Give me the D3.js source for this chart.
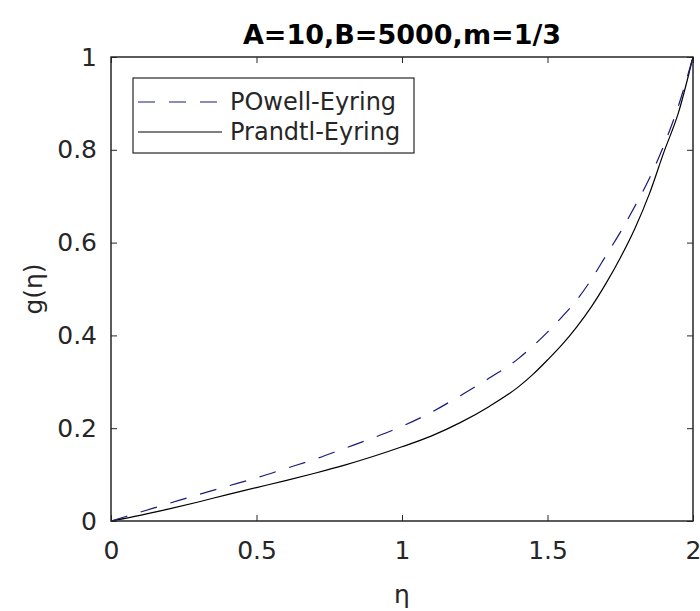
<!DOCTYPE html>
<html>
<head>
<meta charset="utf-8">
<script src="https://cdn.jsdelivr.net/npm/d3@7"></script>
<style>
  body { margin: 0; background: #fff; }
  text { font-family: "DejaVu Sans", sans-serif; fill: #262626; }
</style>
</head>
<body>
<div id="viz"></div>
<script>
// data
var eta = [0, 0.1, 0.2, 0.3, 0.4, 0.5, 0.6, 0.7, 0.8, 0.9, 1.0, 1.1, 1.2, 1.3, 1.4, 1.45, 1.5, 1.55, 1.6, 1.65, 1.7, 1.75, 1.8, 1.85, 1.9, 1.95, 2.0];
var powell = [0, 0.019, 0.038, 0.057, 0.075, 0.093, 0.113, 0.133, 0.156, 0.179, 0.204, 0.234, 0.270, 0.308, 0.350, 0.377, 0.407, 0.44, 0.476, 0.52, 0.571, 0.622, 0.678, 0.738, 0.81, 0.895, 1.0];
var prandtl = [0, 0.012, 0.026, 0.041, 0.057, 0.072, 0.087, 0.103, 0.120, 0.139, 0.160, 0.183, 0.212, 0.247, 0.289, 0.316, 0.347, 0.380, 0.418, 0.461, 0.511, 0.567, 0.63, 0.705, 0.795, 0.88, 1.0];
var xTicks = [0, 0.5, 1, 1.5, 2];
var yTicks = [0, 0.2, 0.4, 0.6, 0.8, 1];
var legendLabels = ["POwell-Eyring", "Prandtl-Eyring"];

var width = 700, height = 611;
var margin = { t: 57, l: 111, b: 90, r: 7 };
var w = width - margin.l - margin.r;
var h = height - margin.t - margin.b;

var svg = d3.select('#viz').append('svg')
  .attr('width', width)
  .attr('height', height);

var g = svg.append('g')
  .attr('transform', `translate(${margin.l}, ${margin.t})`);

var x = d3.scaleLinear().domain([0, 2]).range([0, w]);
var y = d3.scaleLinear().domain([0, 1]).range([h, 0]);

var tickLen = 6;

// axes (inside ticks, like matlab)
var xAxis = g.append('g').attr('transform', `translate(0, ${h})`)
  .call(d3.axisBottom(x).tickValues(xTicks).tickSize(-tickLen).tickPadding(20).tickFormat(d3.format('')));
var xTop = g.append('g')
  .call(d3.axisTop(x).tickValues(xTicks).tickSize(-tickLen).tickFormat(''));
var yAxis = g.append('g')
  .call(d3.axisLeft(y).tickValues(yTicks).tickSize(-tickLen).tickPadding(14).tickFormat(d3.format('')));
var yRight = g.append('g').attr('transform', `translate(${w}, 0)`)
  .call(d3.axisRight(y).tickValues(yTicks).tickSize(-tickLen).tickFormat(''));

[xAxis, xTop, yAxis, yRight].forEach(function(a){
  a.select('.domain').remove();
  a.selectAll('line').attr('stroke', '#262626').attr('stroke-width', 1);
  a.selectAll('text').style('font-size', '25px').style('fill', '#262626');
});
xAxis.selectAll('text').attr('dy', '0.71em');

// lines
var line = d3.line()
  .x(function(d, i){ return x(eta[i]); })
  .y(function(d){ return y(d); })
  .curve(d3.curveMonotoneX);

g.append('path').datum(prandtl)
  .attr('d', line)
  .attr('fill', 'none')
  .attr('stroke', '#000')
  .attr('stroke-width', 1.2);

g.append('path').datum(powell)
  .attr('d', line)
  .attr('fill', 'none')
  .attr('stroke', '#1a1a7a')
  .attr('stroke-width', 1.2)
  .attr('stroke-dasharray', '17,14');

// box
g.append('rect')
  .attr('width', w).attr('height', h)
  .attr('fill', 'none')
  .attr('stroke', '#262626')
  .attr('stroke-width', 1.5);

// title
svg.append('text')
  .attr('x', margin.l + w / 2)
  .attr('y', 44)
  .attr('text-anchor', 'middle')
  .style('font-size', '27px')
  .style('font-weight', 'bold')
  .style('fill', '#000')
  .text('A=10,B=5000,m=1/3');

// axis labels
svg.append('text')
  .attr('x', margin.l + w / 2)
  .attr('y', 603)
  .attr('text-anchor', 'middle')
  .style('font-size', '25px')
  .text('η');

svg.append('text')
  .attr('transform', `translate(42, ${margin.t + h / 2}) rotate(-90)`)
  .attr('text-anchor', 'middle')
  .style('font-size', '25px')
  .text('g(η)');

// legend
var lg = svg.append('g').attr('transform', 'translate(133, 78)');
lg.append('rect')
  .attr('width', 281).attr('height', 75)
  .attr('fill', '#fff')
  .attr('stroke', '#262626')
  .attr('stroke-width', 1.2);

var rows = lg.selectAll('.row').data(legendLabels).enter().append('g')
  .attr('transform', function(d, i){ return `translate(0, ${24 + i * 30})`; });

rows.append('line')
  .attr('x1', 5).attr('x2', 89)
  .attr('stroke', function(d, i){ return i === 0 ? '#1a1a7a' : '#000'; })
  .attr('stroke-width', 1.2)
  .attr('stroke-dasharray', function(d, i){ return i === 0 ? '17,14' : null; });

rows.append('text')
  .attr('x', 97)
  .attr('dy', '0.35em')
  .style('font-size', '24px')
  .text(function(d){ return d; });
</script>
</body>
</html>
